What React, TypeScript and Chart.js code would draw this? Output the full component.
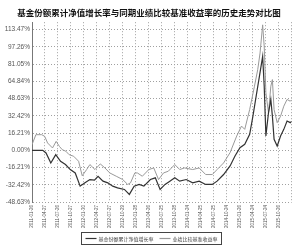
import React, { useEffect, useRef } from "react";
import { Chart, registerables } from "chart.js";

Chart.register(...registerables);

const TITLE = "基金份额累计净值增长率与同期业绩比较基准收益率的历史走势对比图";
const SERIES_NAMES = ["基金份额累计净值增长率", "业绩比较基准收益率"];

const dateLabels = [
  "2011-01-26", "2011-04-27", "2011-07-26", "2011-10-27",
  "2012-01-30", "2012-04-27", "2012-07-27", "2012-10-29",
  "2013-01-28", "2013-04-26", "2013-07-25", "2013-10-28",
  "2014-01-24", "2014-04-25", "2014-07-25", "2014-10-24",
  "2015-01-26", "2015-04-24", "2015-07-24", "2015-10-26",
];

const yTicks = [-48.63, -32.42, -16.21, 0, 16.21, 32.42, 48.63, 64.84, 81.05, 97.26, 113.47];

// time in quarters since the first label
const fundT = [0, 0.83, 1.08, 1.45, 1.83, 2.2, 2.58, 2.95, 3.33, 3.71, 4.08, 4.46, 4.81, 5.09, 5.47, 5.84, 6.22, 6.59, 7.12, 7.5, 7.87, 8.25, 8.62, 9.12, 9.5, 9.87, 10.25, 10.62, 11.0, 11.38, 11.88, 12.38, 12.88, 13.38, 13.89, 14.26, 14.76, 15.26, 15.64, 16.02, 16.39, 16.77, 17.02, 17.27, 17.52, 17.77, 17.89, 18.02, 18.22, 18.4, 18.52, 18.65, 18.89, 19.15, 19.4, 19.65, 19.9, 20.0];
const fundV = [0, 0, -2.5, -11.9, -4.1, -10.3, -13.4, -18.1, -21.3, -33.7, -30.6, -27.5, -28, -24.4, -29, -30.6, -33.7, -35.3, -36.8, -41.5, -33.7, -32.1, -33.7, -27.5, -25.9, -36.8, -32.1, -29, -25.9, -29, -27.5, -30.6, -29, -32.1, -32.1, -29, -22.8, -14.7, -5.3, 2.5, 5.6, 15, 32.1, 50.9, 69.6, 88.4, 60.3, 13.4, 35.3, 47.8, 32.1, 10.3, 4, 13.4, 19.7, 27.5, 26, 27.2];

const benchT = [0, 0.3, 0.75, 0.98, 1.2, 1.58, 1.86, 2.11, 2.33, 2.61, 2.86, 3.21, 3.59, 3.87, 4.21, 4.46, 4.85, 5.26, 5.62, 5.99, 6.49, 6.99, 7.37, 7.59, 7.92, 8.12, 8.5, 9.0, 9.38, 9.75, 10.13, 10.5, 11.0, 11.38, 11.75, 12.38, 12.88, 13.38, 13.89, 14.26, 14.76, 15.26, 15.77, 16.14, 16.39, 16.77, 17.14, 17.39, 17.57, 17.77, 17.89, 18.02, 18.22, 18.4, 18.52, 18.65, 18.89, 19.15, 19.4, 19.65, 19.9, 20.0];
const benchV = [5.3, 14.7, 14.7, 13.1, 6.9, 2.2, 8.4, 3.7, 0.6, -0.9, -4.1, -5.6, -10.3, -24, -18.1, -13.4, -18.1, -12.8, -16.6, -21.3, -24.4, -27.5, -32.1, -30.6, -21.3, -21.3, -24.4, -18.1, -16.6, -27.5, -21.3, -19.7, -13.4, -18.1, -16.6, -18.1, -16.6, -22.8, -22.8, -18.1, -11.9, -2.2, 13.4, 22.8, 19.7, 38.4, 60.3, 75.9, 91.5, 118, 97.7, 54.1, 35.3, 60.3, 66.5, 38.4, 26, 32.1, 41.5, 47.8, 46.2, 47.5];

const SERIES_COLORS = ["#333333", "#999999"];

const legendBoxPlugin = {
  id: "legendBox",
  afterDraw(chart: any) {
    const ctx = chart.ctx;
    const font = "5px 'Noto Sans CJK SC'";
    ctx.save();
    ctx.font = font;
    const lineW = 11;
    const gap = 2;
    const sep = 6;
    const pad = 4;
    const ds = chart.data.datasets;
    let total = pad * 2;
    ds.forEach((d: any, i: number) => {
      total += lineW + gap + ctx.measureText(d.label).width;
      if (i < ds.length - 1) total += sep;
    });
    const cx = chart.width / 2 + 1;
    const left = Math.round(cx - total / 2) + 0.5;
    const top = 232.5;
    const h = 12;
    ctx.strokeStyle = "#444";
    ctx.lineWidth = 1;
    ctx.strokeRect(left, top, Math.round(total), h);
    let x = left + pad;
    const yMid = top + h / 2;
    ds.forEach((d: any) => {
      ctx.strokeStyle = d.borderColor;
      ctx.lineWidth = 1.2;
      ctx.beginPath();
      ctx.moveTo(x, yMid);
      ctx.lineTo(x + lineW, yMid);
      ctx.stroke();
      x += lineW + gap;
      ctx.fillStyle = "#444";
      ctx.textBaseline = "middle";
      ctx.fillText(d.label, x, yMid + 0.5);
      x += ctx.measureText(d.label).width + sep;
    });
    ctx.restore();
  },
};

export default function App() {
  const ref = useRef<HTMLCanvasElement | null>(null);
  useEffect(() => {
    document.body.style.margin = "0";
    const canvas = ref.current!;
    const chart = new Chart(canvas, {
      type: "line",
      data: {
        datasets: [
          {
            label: SERIES_NAMES[0],
            data: fundT.map((t, i) => ({ x: t, y: fundV[i] })),
            borderColor: SERIES_COLORS[0],
            borderWidth: 1.2,
            pointRadius: 0,
            tension: 0,
          },
          {
            label: SERIES_NAMES[1],
            data: benchT.map((t, i) => ({ x: t, y: benchV[i] })),
            borderColor: SERIES_COLORS[1],
            borderWidth: 1,
            pointRadius: 0,
            tension: 0,
          },
        ],
      },
      options: {
        animation: false,
        responsive: false,
        events: [],
        layout: { padding: { left: 0, right: 2, top: 0, bottom: 19 } },
        plugins: {
          legend: { display: false },
          tooltip: { enabled: false },
          title: {
            display: true,
            text: TITLE,
            color: "#111",
            font: { family: "'Noto Sans CJK SC'", size: 8.5, weight: "bold" },
            padding: { top: 8, bottom: 4 },
          },
        },
        scales: {
          x: {
            type: "linear",
            min: 0,
            max: 20,
            afterBuildTicks: (s: any) => {
              s.ticks = Array.from({ length: 21 }, (_, i) => ({ value: i }));
            },
            afterFit: (s: any) => {
              s.height = 28;
            },
            ticks: {
              autoSkip: false,
              minRotation: 90,
              maxRotation: 90,
              padding: 3,
              color: "#555",
              font: { family: "'Liberation Sans'", size: 4.5 },
              callback: (v: any) => dateLabels[v] ?? "",
            },
            grid: { color: "#a0a0a0", drawTicks: false, lineWidth: 1 },
            border: { display: false, dash: [1, 2] },
          },
          y: {
            min: -48.63,
            max: 120.5,
            afterBuildTicks: (s: any) => {
              s.ticks = yTicks.map((v) => ({ value: v }));
            },
            afterFit: (s: any) => {
              s.width = 32;
            },
            ticks: {
              padding: 2,
              color: "#555",
              font: { family: "'Liberation Sans'", size: 6.5 },
              callback: (v: any) => Number(v).toFixed(2) + "%",
            },
            grid: { color: "#a0a0a0", drawTicks: false, lineWidth: 1 },
            border: { display: true, color: "#777", width: 1, dash: [1, 2] },
          },
        },
      },
      plugins: [legendBoxPlugin],
    });
    return () => chart.destroy();
  }, []);
  return (
    <div style={{ width: 300, height: 249 }}>
      <canvas ref={ref} width={300} height={249} style={{ display: "block" }} />
    </div>
  );
}
